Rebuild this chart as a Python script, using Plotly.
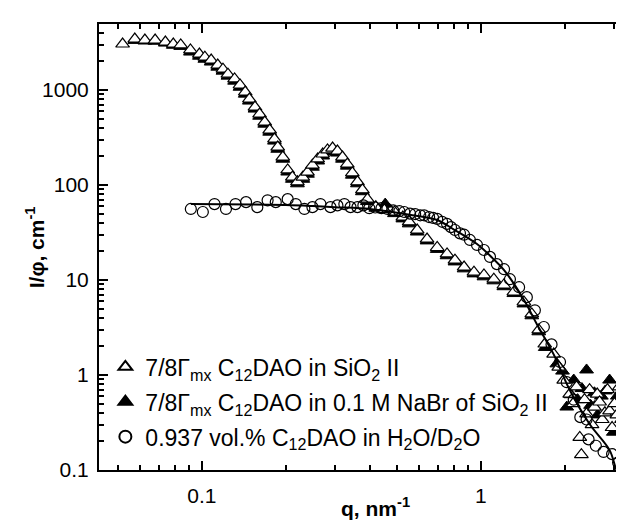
import math
import plotly.graph_objects as go

# 7/8 Gamma_mx C12DAO in SiO2 II (open triangles)
q_open = [0.052, 0.0575, 0.0625, 0.068, 0.074, 0.079, 0.084, 0.091, 0.098, 0.1025,
          0.108, 0.114, 0.119, 0.124, 0.131, 0.137, 0.143, 0.148, 0.155, 0.161,
          0.168, 0.175, 0.182, 0.187, 0.195, 0.203, 0.211, 0.220, 0.230, 0.239,
          0.249, 0.260, 0.271, 0.282, 0.294, 0.306, 0.319, 0.332, 0.346, 0.361,
          0.376, 0.392, 0.42, 0.45, 0.49, 0.525, 0.553, 0.591, 0.641, 0.697,
          0.756, 0.807, 0.870, 0.944, 1.025, 1.112, 1.208, 1.312, 1.425, 1.521,
          1.611, 1.693, 1.822, 1.90, 1.98, 2.08, 2.14, 2.20, 2.26, 2.29,
          2.35, 2.39, 2.45, 2.50, 2.55, 2.61, 2.66, 2.72, 2.78, 2.84,
          2.89, 2.95, 3.01, 3.07, 3.13, 3.19, 3.26, 3.35]
i_open = [3050, 3440, 3360, 3360, 3200, 3050, 2980, 2640, 2390, 2220,
          2070, 1830, 1660, 1470, 1310, 1130, 953, 804, 662, 559,
          460, 379, 305, 251, 197, 144, 121, 108, 121, 137,
          162, 188, 212, 234, 245, 228, 197, 166, 134, 108,
          89, 71, 59, 55, 52, 46, 41, 33.6, 27, 22,
          18.8, 16.2, 13.7, 12.1, 11.3, 10.2, 8.86, 7.48, 5.87, 4.39,
          2.98, 2.12, 1.66, 1.21, 0.885, 0.63, 0.50, 0.75, 0.22, 0.145,
          0.55, 0.39, 0.70, 0.30, 0.46, 0.63, 0.52, 0.34, 0.40, 0.70,
          0.42, 0.28, 0.50, 0.38, 0.75, 0.34, 0.55, 4.6]

# 7/8 Gamma_mx C12DAO in 0.1 M NaBr of SiO2 II (filled triangles)
q_fill = [0.0575, 0.0625, 0.068, 0.074, 0.079, 0.084, 0.091, 0.098, 0.1025, 0.108,
          0.114, 0.119, 0.124, 0.131, 0.137, 0.143, 0.148, 0.155, 0.161, 0.168,
          0.175, 0.182, 0.187, 0.195, 0.203, 0.211, 0.220, 0.230, 0.239, 0.249,
          0.260, 0.271, 0.282, 0.294, 0.306, 0.319, 0.332, 0.346, 0.361, 0.376,
          0.392, 0.42, 0.454, 0.49, 0.525, 0.553, 0.591, 0.641, 0.697, 0.756,
          0.807, 0.870, 0.944, 1.025, 1.112, 1.208, 1.312, 1.425, 1.521, 1.611,
          1.70, 1.87, 1.96, 2.03, 2.10, 2.15, 2.22, 2.30, 2.39, 2.47,
          2.55, 2.62, 2.70, 2.79, 2.89, 2.98, 3.08, 3.18, 3.32]
i_fill = [3330, 3280, 3260, 3120, 2960, 2880, 2510, 2270, 2110, 1970,
          1740, 1580, 1400, 1240, 1070, 905, 765, 630, 530, 437,
          360, 290, 238, 187, 137, 115, 103, 115, 130, 154,
          179, 202, 222, 233, 217, 187, 158, 127, 103, 85,
          67, 57, 63, 50, 44, 39, 32, 25.8, 21, 18,
          15.5, 13.1, 11.6, 10.8, 9.8, 8.5, 7.2, 5.6, 4.2, 2.85,
          1.95, 1.31, 1.1, 0.46, 0.62, 0.885, 0.55, 0.72, 1.13, 0.48,
          0.65, 0.38, 0.60, 0.68, 0.885, 0.25, 0.60, 0.55, 1.21]

# 0.937 vol.% C12DAO in H2O/D2O (open circles)
q_circ = [0.0913, 0.1008, 0.111, 0.122, 0.132, 0.144, 0.158, 0.172, 0.184, 0.203,
          0.217, 0.233, 0.249, 0.266, 0.289, 0.306, 0.324, 0.341, 0.361, 0.379,
          0.398, 0.418, 0.440, 0.462, 0.485, 0.51, 0.531, 0.557, 0.581, 0.606,
          0.626, 0.652, 0.674, 0.697, 0.726, 0.756, 0.781, 0.807, 0.841, 0.870,
          0.913, 0.968, 1.025, 1.077, 1.14, 1.21, 1.27, 1.37, 1.46, 1.56,
          1.68, 1.79, 1.92, 2.03, 2.15, 2.27, 2.39, 2.43, 2.58, 2.75,
          2.95, 3.10, 3.24, 3.32, 3.40]
i_circ = [56, 52, 63, 56, 63, 66, 58.5, 69, 66, 71,
          63, 56, 58.5, 63, 58.5, 61, 63, 58.5, 58.5, 61,
          57, 58, 57, 56, 54, 53, 52, 50, 49.5, 48,
          48, 46, 45, 44, 41, 39, 36, 33.6, 31, 30,
          26.4, 23.4, 20.7, 17.5, 14.7, 13.0, 10.2, 8.4, 6.6, 4.8,
          3.2, 2.1, 1.37, 0.84, 0.55, 0.36, 0.34, 0.21, 0.18, 0.155,
          0.147, 0.12, 0.21, 0.147, 0.2]

# model curve through the circles
q_fit = [0.0913, 0.15, 0.2, 0.25, 0.3, 0.4, 0.5, 0.6, 0.697, 0.8,
         0.968, 1.1, 1.21, 1.425, 1.585, 1.82, 2.08, 2.45, 2.89, 3.06, 3.2]
i_fit = [63, 62.5, 61.5, 60, 58.5, 56, 51, 47, 42.8, 34,
         23.9, 17, 12.7, 6.2, 3.44, 1.66, 0.695, 0.305, 0.162, 0.1, 0.08]

x_ticks = [0.1, 1]
x_labels = ["0.1", "1"]
y_ticks = [0.1, 1, 10, 100, 1000]
y_labels = ["0.1", "1", "10", "100", "1000"]

name_open = "7/8Γ<sub>mx</sub> C<sub>12</sub>DAO in SiO<sub>2</sub> II"
name_fill = "7/8Γ<sub>mx</sub> C<sub>12</sub>DAO in 0.1 M NaBr of SiO<sub>2</sub> II"
name_circ = "0.937 vol.% C<sub>12</sub>DAO in H<sub>2</sub>O/D<sub>2</sub>O"

minor_x = [m * 10 ** d for d in range(-2, 1) for m in range(2, 10)]
minor_y = [m * 10 ** d for d in range(-1, 4) for m in range(2, 10)]

fig = go.Figure()
fig.add_trace(go.Scatter(
    x=q_fill, y=i_fill, mode="markers", name=name_fill, legendrank=2, legendgroup="b",
    marker=dict(symbol="triangle-up", size=12, color="black", line=dict(color="black", width=1))))
fig.add_trace(go.Scatter(
    x=q_open, y=i_open, mode="markers", name=name_open, legendrank=1, legendgroup="a",
    marker=dict(symbol="triangle-up", size=12, color="white", line=dict(color="black", width=1.2))))
fig.add_trace(go.Scatter(
    x=q_circ, y=i_circ, mode="markers", name=name_circ, legendrank=3, legendgroup="c",
    marker=dict(symbol="circle-open", size=11, color="black", line=dict(color="black", width=1.2))))
fig.add_trace(go.Scatter(
    x=q_fit, y=i_fit, mode="lines", showlegend=False,
    line=dict(color="black", width=2, shape="spline")))

axis_common = dict(
    showline=True, linecolor="black", linewidth=2, mirror="ticks",
    ticks="inside", ticklen=9, tickwidth=1.5, tickcolor="black",
    showgrid=False, zeroline=False,
    tickfont=dict(size=21, color="black"),
)

fig.update_xaxes(type="log", range=[math.log10(0.0428), math.log10(3.42)],
                 tickvals=x_ticks, ticktext=x_labels, ticklabelstandoff=6,
                 minor=dict(tickvals=minor_x, ticks="inside", ticklen=5, tickwidth=1.5,
                            tickcolor="black", showgrid=False),
                 **axis_common)
fig.update_yaxes(type="log", range=[-1, 3.695],
                 tickvals=y_ticks, ticktext=y_labels, ticklabelstandoff=4,
                 minor=dict(tickvals=minor_y, ticks="inside", ticklen=5, tickwidth=1.5,
                            tickcolor="black", showgrid=False),
                 **axis_common)

fig.update_layout(
    width=624, height=521,
    margin=dict(l=91, r=0, t=16, b=59),
    plot_bgcolor="white", paper_bgcolor="white",
    font=dict(family="Liberation Sans, Arial, sans-serif", size=21, color="black"),
    legend=dict(x=0.012, y=0.026, xanchor="left", yanchor="bottom",
                bgcolor="rgba(0,0,0,0)", font=dict(size=23),
                tracegroupgap=2, itemsizing="constant"),
    annotations=[
        dict(text="<b>q, nm<sup>-1</sup></b>", xref="paper", yref="paper",
             x=0.52, y=-0.083, xanchor="center", yanchor="middle",
             showarrow=False, font=dict(size=21)),
        dict(text="<b>I/φ, cm<sup>-1</sup></b>", xref="paper", yref="paper",
             x=-0.12, y=0.5, xanchor="center", yanchor="middle", textangle=-90,
             showarrow=False, font=dict(size=21)),
    ],
)

fig.write_html("out.html")
